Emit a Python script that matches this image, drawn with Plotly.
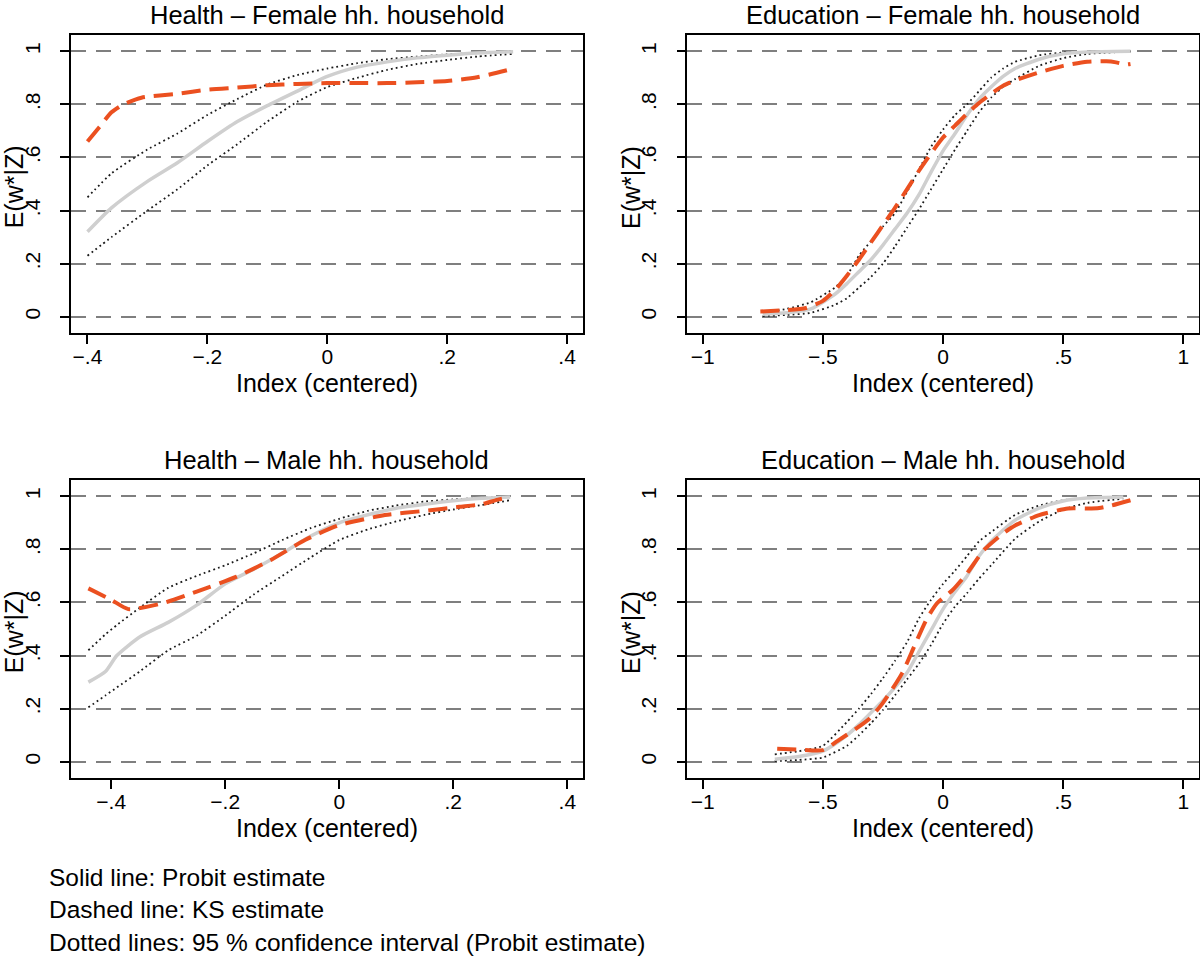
import plotly.graph_objects as go

# ---------------- data ----------------
# Health - Female hh. household
hf_x = [-0.40, -0.36, -0.30, -0.25, -0.20, -0.15, -0.10, -0.05, 0.00, 0.05, 0.10, 0.15, 0.20, 0.25, 0.31]
hf_probit = [0.32, 0.41, 0.51, 0.58, 0.66, 0.735, 0.795, 0.85, 0.905, 0.94, 0.96, 0.975, 0.985, 0.993, 0.998]
hf_hi = [0.45, 0.54, 0.63, 0.69, 0.76, 0.82, 0.875, 0.91, 0.935, 0.955, 0.97, 0.98, 0.988, 0.994, 0.999]
hf_lo = [0.23, 0.30, 0.40, 0.48, 0.57, 0.65, 0.735, 0.81, 0.865, 0.90, 0.93, 0.952, 0.967, 0.98, 0.99]
hf_ks_x = [-0.40, -0.38, -0.36, -0.34, -0.31, -0.25, -0.20, -0.15, -0.10, -0.05, 0.00, 0.05, 0.10, 0.15, 0.20, 0.25, 0.31]
hf_ks = [0.66, 0.715, 0.77, 0.80, 0.825, 0.84, 0.855, 0.863, 0.872, 0.877, 0.88, 0.88, 0.88, 0.883, 0.888, 0.902, 0.934]

# Education - Female hh. household
ef_x = [-0.75, -0.65, -0.55, -0.45, -0.40, -0.35, -0.30, -0.25, -0.20, -0.15, -0.10, -0.05, 0.00,
        0.05, 0.10, 0.15, 0.20, 0.25, 0.30, 0.40, 0.50, 0.60, 0.78]
ef_probit = [0.01, 0.015, 0.03, 0.085, 0.125, 0.17, 0.215, 0.27, 0.33, 0.39, 0.46, 0.545, 0.625,
             0.69, 0.76, 0.82, 0.865, 0.905, 0.935, 0.97, 0.99, 0.997, 1.0]
ef_hi = [0.015, 0.03, 0.055, 0.11, 0.155, 0.23, 0.285, 0.34, 0.39, 0.47, 0.555, 0.64, 0.705,
         0.76, 0.80, 0.85, 0.90, 0.935, 0.96, 0.985, 0.995, 0.998, 1.0]
ef_lo = [0.003, 0.007, 0.015, 0.045, 0.07, 0.11, 0.15, 0.20, 0.265, 0.335, 0.405, 0.48, 0.555,
         0.63, 0.70, 0.77, 0.825, 0.865, 0.895, 0.945, 0.974, 0.99, 0.999]
ef_ks_x = [-0.76, -0.65, -0.57, -0.50, -0.45, -0.40, -0.35, -0.30, -0.25, -0.20, -0.15, -0.10, -0.05, 0.00,
           0.05, 0.10, 0.15, 0.20, 0.25, 0.30, 0.40, 0.50, 0.60, 0.68, 0.72, 0.76, 0.78]
ef_ks = [0.02, 0.025, 0.033, 0.06, 0.10, 0.155, 0.215, 0.28, 0.345, 0.41, 0.48, 0.55, 0.615, 0.675,
         0.72, 0.765, 0.805, 0.84, 0.87, 0.89, 0.92, 0.945, 0.96, 0.962, 0.958, 0.95, 0.952]

# Health - Male hh. household
hm_x = [-0.44, -0.41, -0.39, -0.35, -0.30, -0.25, -0.20, -0.15, -0.10, -0.05, 0.00, 0.05, 0.10, 0.15, 0.20, 0.25, 0.30]
hm_probit = [0.30, 0.34, 0.40, 0.47, 0.525, 0.59, 0.67, 0.725, 0.785, 0.85, 0.90, 0.93, 0.955, 0.97, 0.983, 0.992, 0.997]
hm_hi = [0.42, 0.48, 0.515, 0.58, 0.655, 0.70, 0.74, 0.785, 0.835, 0.88, 0.915, 0.945, 0.965, 0.98, 0.988, 0.994, 0.998]
hm_lo = [0.205, 0.25, 0.28, 0.34, 0.42, 0.475, 0.55, 0.63, 0.70, 0.77, 0.835, 0.875, 0.905, 0.93, 0.95, 0.967, 0.985]
hm_ks_x = [-0.44, -0.40, -0.37, -0.31, -0.25, -0.18, -0.12, -0.06, 0.00, 0.08, 0.15, 0.21, 0.25, 0.28, 0.30]
hm_ks = [0.653, 0.61, 0.575, 0.597, 0.641, 0.697, 0.76, 0.835, 0.891, 0.929, 0.945, 0.96, 0.97, 0.988, 0.997]

# Education - Male hh. household
em_x = [-0.70, -0.60, -0.50, -0.40, -0.35, -0.30, -0.25, -0.20, -0.15, -0.10, -0.05, 0.00,
        0.05, 0.10, 0.15, 0.20, 0.30, 0.40, 0.50, 0.60, 0.75]
em_probit = [0.01, 0.02, 0.04, 0.10, 0.14, 0.185, 0.23, 0.28, 0.335, 0.415, 0.495, 0.575,
             0.64, 0.70, 0.775, 0.83, 0.91, 0.955, 0.982, 0.993, 0.997]
em_hi = [0.028, 0.04, 0.06, 0.15, 0.20, 0.255, 0.315, 0.38, 0.45, 0.54, 0.61, 0.67,
         0.72, 0.775, 0.83, 0.865, 0.93, 0.965, 0.985, 0.993, 0.998]
em_lo = [0.003, 0.007, 0.016, 0.06, 0.10, 0.145, 0.195, 0.25, 0.31, 0.37, 0.44, 0.52,
         0.585, 0.635, 0.69, 0.74, 0.84, 0.905, 0.95, 0.975, 0.991]
em_ks_x = [-0.69, -0.60, -0.50, -0.44, -0.31, -0.25, -0.17, -0.12, -0.07, -0.025, 0.04, 0.10, 0.17,
           0.25, 0.30, 0.40, 0.52, 0.60, 0.65, 0.70, 0.78]
em_ks = [0.049, 0.046, 0.044, 0.078, 0.159, 0.222, 0.334, 0.434, 0.534, 0.597, 0.647, 0.71, 0.797,
         0.86, 0.89, 0.929, 0.954, 0.954, 0.956, 0.965, 0.985]

titles = ["Health \u2013 Female hh. household", "Education \u2013 Female hh. household",
          "Health \u2013 Male hh. household", "Education \u2013 Male hh. household"]
y_tickvals = [0, 0.2, 0.4, 0.6, 0.8, 1]
y_ticktext = ["0", ".2", ".4", ".6", ".8", "1"]
health_tickvals = [-0.4, -0.2, 0, 0.2, 0.4]
health_ticktext = ["\u2212.4", "\u2212.2", "0", ".2", ".4"]
edu_tickvals = [-1, -0.5, 0, 0.5, 1]
edu_ticktext = ["\u22121", "\u2212.5", "0", ".5", "1"]
notes = ["Solid line: Probit estimate", "Dashed line: KS estimate",
         "Dotted lines: 95 % confidence interval (Probit estimate)"]

# ---------------- layout geometry ----------------
W, H = 1200, 959
FONT = "Liberation Sans, Arial, Helvetica, sans-serif"
ORANGE = "#EB5020"
GRAY = "#CFCFCF"


def fx(p):
    return p / W


def fy(p):
    return 1 - p / H


# frames in page pixel coords: (left, right, top, bottom)
frames = [(70.7, 582.7, 35.3, 333.0), (687.3, 1198.5, 35.3, 333.0),
          (70.7, 582.7, 480.3, 778.0), (687.3, 1198.5, 480.3, 778.0)]
xranges = [[-0.428, 0.426], [-1.064, 1.063], [-0.471, 0.427], [-1.064, 1.063]]
panels = [
    (hf_x, hf_probit, hf_lo, hf_hi, hf_ks_x, hf_ks, health_tickvals, health_ticktext),
    (ef_x, ef_probit, ef_lo, ef_hi, ef_ks_x, ef_ks, edu_tickvals, edu_ticktext),
    (hm_x, hm_probit, hm_lo, hm_hi, hm_ks_x, hm_ks, health_tickvals, health_ticktext),
    (em_x, em_probit, em_lo, em_hi, em_ks_x, em_ks, edu_tickvals, edu_ticktext),
]

fig = go.Figure()
annotations = []
for i, (px, pr, lo, hi, kx, ks, xtv, xtt) in enumerate(panels):
    n = "" if i == 0 else str(i + 1)
    xa, ya = "x" + n, "y" + n
    for yy in (hi, lo):
        fig.add_trace(go.Scatter(x=px, y=yy, mode="lines", xaxis=xa, yaxis=ya,
                                 line=dict(color="#1a1a1a", width=1.8, dash="1.8px,3.2px",
                                           shape="spline", smoothing=0.5),
                                 showlegend=False, hoverinfo="skip"))
    fig.add_trace(go.Scatter(x=px, y=pr, mode="lines", xaxis=xa, yaxis=ya,
                             line=dict(color=GRAY, width=3.5, shape="spline", smoothing=0.6),
                             showlegend=False))
    fig.add_trace(go.Scatter(x=kx, y=ks, mode="lines", xaxis=xa, yaxis=ya,
                             line=dict(color=ORANGE, width=4, dash="19px,9px", shape="spline", smoothing=0.6),
                             showlegend=False))

    l, r, t, b = frames[i]
    axcommon = dict(showline=True, mirror=True, linecolor="black", linewidth=1.5,
                    ticks="outside", ticklen=9, tickwidth=1.5, tickcolor="black",
                    zeroline=False, tickfont=dict(family=FONT, size=21, color="black"))
    fig.layout["xaxis" + n] = dict(domain=[fx(l), fx(r)], range=xranges[i], anchor=ya,
                                   tickvals=xtv, ticktext=xtt, showgrid=False,
                                   ticklabelstandoff=-5, **axcommon)
    fig.layout["yaxis" + n] = dict(domain=[fy(b), fy(t)], range=[-0.061, 1.06], anchor=xa,
                                   tickvals=y_tickvals, ticktext=y_ticktext, tickangle=-90,
                                   ticklabelstandoff=12,
                                   showgrid=True, gridcolor="#7F7F7F", gridwidth=1.5,
                                   griddash="15px,10px", **axcommon)

    cx = fx((l + r) / 2)
    annotations.append(dict(text=titles[i], x=cx, y=fy(t - 20.5), xref="paper", yref="paper",
                            xanchor="center", yanchor="middle", showarrow=False,
                            font=dict(family=FONT, size=25.5, color="black")))
    annotations.append(dict(text="Index (centered)", x=cx, y=fy(b + 50), xref="paper", yref="paper",
                            xanchor="center", yanchor="middle", showarrow=False,
                            font=dict(family=FONT, size=25, color="black")))
    annotations.append(dict(text="E(w*|Z)", x=fx(l - 56.5), y=fy((t + b) / 2 + 3),
                            xref="paper", yref="paper", xanchor="center", yanchor="middle",
                            textangle=-90, showarrow=False,
                            font=dict(family=FONT, size=25, color="black")))

for k, note in enumerate(notes):
    annotations.append(dict(text=note, x=fx(47), y=fy(877 + 32.5 * k), xref="paper", yref="paper",
                            xanchor="left", yanchor="middle", showarrow=False,
                            font=dict(family=FONT, size=24.5, color="black")))

fig.update_layout(width=W, height=H, margin=dict(l=0, r=0, t=0, b=0),
                  paper_bgcolor="white", plot_bgcolor="white",
                  annotations=annotations, showlegend=False)

# remove the default page margin so the 1200x959 figure fills the window exactly
fig.write_html("out.html", config={"displayModeBar": False},
               post_script="document.body.style.margin='0';document.body.style.overflow='hidden';")
